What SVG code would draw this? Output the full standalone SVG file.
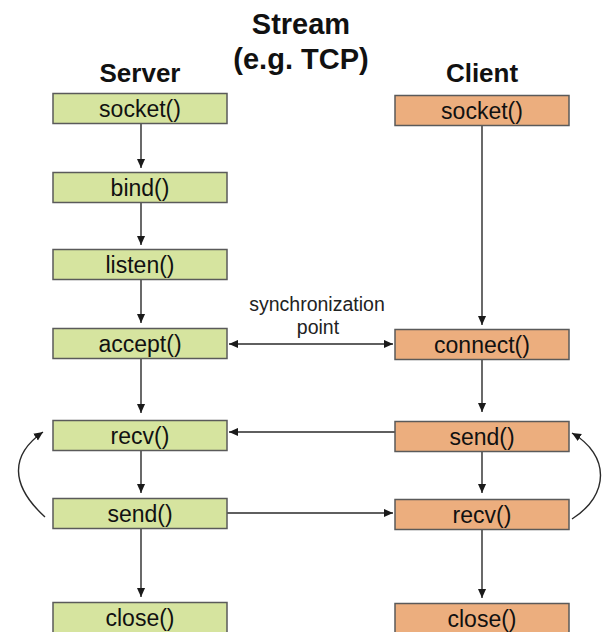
<svg xmlns="http://www.w3.org/2000/svg" width="602" height="632" viewBox="0 0 602 632">
  <style>
    .title { font-family: "Liberation Sans", Arial, sans-serif; font-weight: bold; fill: #111; text-anchor: middle; }
    .lbl { font-family: "Liberation Sans", Arial, sans-serif; font-size: 23px; fill: #111; text-anchor: middle; }
    .note { font-family: "Liberation Sans", Arial, sans-serif; font-size: 19.5px; fill: #222; text-anchor: middle; }
    .srv { fill: #d6e49f; stroke: #5a5a5a; stroke-width: 1.5; }
    .cli { fill: #ecae7e; stroke: #5a5a5a; stroke-width: 1.5; }
    .edge { fill: none; stroke: #2a2a2a; stroke-width: 1.4; marker-end: url(#ah); }
    .both { marker-start: url(#ah); }
  </style>
  <defs>
    <marker id="ah" viewBox="0 0 10 10" refX="10" refY="5" markerWidth="9" markerHeight="9" markerUnits="userSpaceOnUse" orient="auto-start-reverse">
      <path d="M0,0.5 L10,5 L0,9.5 z" fill="#1a1a1a"/>
    </marker>
  </defs>

  <rect width="602" height="632" fill="#ffffff"/>

  <g id="titles">
    <text class="title" x="301" y="34" font-size="29">Stream</text>
    <text class="title" x="301" y="69" font-size="29">(e.g. TCP)</text>
    <text class="title" x="140" y="82" font-size="26">Server</text>
    <text class="title" x="482" y="82" font-size="26">Client</text>
  </g>

  <g id="connectors">
    <line class="edge" x1="141" y1="124" x2="141" y2="168"/>
    <line class="edge" x1="141" y1="203" x2="141" y2="245"/>
    <line class="edge" x1="141" y1="280" x2="141" y2="323"/>
    <line class="edge" x1="141" y1="358" x2="141" y2="413"/>
    <line class="edge" x1="141" y1="450" x2="141" y2="493"/>
    <line class="edge" x1="141" y1="528" x2="141" y2="597"/>

    <line class="edge" x1="482" y1="125" x2="482" y2="325"/>
    <line class="edge" x1="482" y1="359" x2="482" y2="412"/>
    <line class="edge" x1="482" y1="451" x2="482" y2="493"/>
    <line class="edge" x1="482" y1="529" x2="482" y2="598"/>

    <line class="edge both" x1="229" y1="344" x2="393" y2="344"/>
    <line class="edge" x1="395" y1="432" x2="229" y2="432"/>
    <line class="edge" x1="227" y1="513" x2="393" y2="513"/>

    <path class="edge" d="M45,517 C10,485 10,455 43,432"/>
    <path class="edge" d="M572,519 C610,495 610,455 572,433"/>
  </g>

  <g id="sync-label">
    <text class="note" x="317" y="311">synchronization</text>
    <text class="note" x="318" y="334">point</text>
  </g>

  <g id="srv-socket"><rect class="srv" x="53" y="93.5" width="174" height="30"/><text class="lbl" x="140" y="117">socket()</text></g>
  <g id="srv-bind"><rect class="srv" x="53" y="172.5" width="174" height="30"/><text class="lbl" x="140" y="196">bind()</text></g>
  <g id="srv-listen"><rect class="srv" x="53" y="249.5" width="174" height="30"/><text class="lbl" x="140" y="273">listen()</text></g>
  <g id="srv-accept"><rect class="srv" x="53" y="328.5" width="174" height="30"/><text class="lbl" x="140" y="352">accept()</text></g>
  <g id="srv-recv"><rect class="srv" x="53" y="420.5" width="174" height="30"/><text class="lbl" x="140" y="444">recv()</text></g>
  <g id="srv-send"><rect class="srv" x="53" y="498.5" width="174" height="30"/><text class="lbl" x="140" y="522">send()</text></g>
  <g id="srv-close"><rect class="srv" x="53" y="602.5" width="174" height="31"/><text class="lbl" x="140" y="626">close()</text></g>

  <g id="cli-socket"><rect class="cli" x="395" y="95.5" width="174" height="30"/><text class="lbl" x="482" y="119">socket()</text></g>
  <g id="cli-connect"><rect class="cli" x="395" y="329.5" width="174" height="30"/><text class="lbl" x="482" y="353">connect()</text></g>
  <g id="cli-send"><rect class="cli" x="395" y="421.5" width="174" height="30"/><text class="lbl" x="482" y="445">send()</text></g>
  <g id="cli-recv"><rect class="cli" x="395" y="499.5" width="174" height="30"/><text class="lbl" x="482" y="523">recv()</text></g>
  <g id="cli-close"><rect class="cli" x="395" y="603.5" width="174" height="31"/><text class="lbl" x="482" y="627">close()</text></g>
</svg>
